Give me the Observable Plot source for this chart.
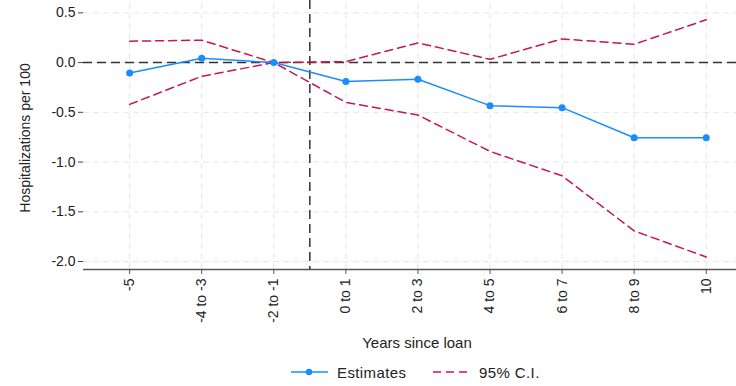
<!DOCTYPE html>
<html>
<head>
<meta charset="utf-8">
<script src="https://cdn.jsdelivr.net/npm/d3@7"></script>
<script src="https://cdn.jsdelivr.net/npm/@observablehq/plot@0.6"></script>
<style>
  body { margin: 0; background: #fff; font-family: "Liberation Sans", Arial, sans-serif; }
  #chart svg { display: block; }
  .legend { position: absolute; top: 362px; left: 0; width: 736px; height: 20px; font-size: 15px; letter-spacing: 0.4px; color: #222; }
  .legend .item { position: absolute; top: 0; display: flex; align-items: center; height: 20px; }
</style>
</head>
<body>
<div id="chart"></div>
<div class="legend">
  <div class="item" style="left:290px;">
    <svg width="40" height="20"><line x1="1" x2="38" y1="10" y2="10" stroke="#1a8cff" stroke-width="1.5"/><circle cx="19" cy="10" r="3.2" fill="#1a8cff"/></svg>
    <span style="margin-left:7px;">Estimates</span>
  </div>
  <div class="item" style="left:432px;">
    <svg width="40" height="20"><line x1="1" x2="38" y1="10" y2="10" stroke="#c8174a" stroke-width="1.5" stroke-dasharray="8,5"/></svg>
    <span style="margin-left:7px;">95% C.I.</span>
  </div>
</div>
<script>
const categories = ["-5", "-4 to -3", "-2 to -1", "0 to 1", "2 to 3", "4 to 5", "6 to 7", "8 to 9", "10"];
const estimates = [-0.104, 0.043, 0.0, -0.19, -0.168, -0.433, -0.453, -0.755, -0.755];
const ciUpper   = [0.215, 0.225, 0.0, 0.01, 0.198, 0.033, 0.238, 0.184, 0.43];
const ciLower   = [-0.42, -0.138, 0.0, -0.40, -0.527, -0.893, -1.138, -1.692, -1.954];
const yTicks = [0.5, 0, -0.5, -1, -1.5, -2];

const rows = categories.map((c, i) => ({cat: c, i, est: estimates[i], hi: ciUpper[i], lo: ciLower[i]}));

const blue = "#1a8cff";
const red = "#c8174a";

const chart = Plot.plot({
  width: 736,
  height: 356,
  marginLeft: 83,
  marginRight: 0,
  marginTop: 0,
  marginBottom: 87,
  style: {fontFamily: "Liberation Sans, Arial, sans-serif", fontSize: "13px", color: "#222", background: "#fff"},
  x: {type: "linear", domain: [-0.64, 8.42], axis: null},
  y: {domain: [-2.08, 0.624], axis: null},
  marks: [
    // gridlines
    Plot.ruleY(yTicks, {stroke: "#e6e6e6", strokeDasharray: "6,4", strokeWidth: 1}),
    Plot.ruleX(rows, {x: "i", y1: -2.08, y2: 0.624, stroke: "#e6e6e6", strokeDasharray: "6,4", strokeWidth: 1}),
    // y axis ticks & labels
    Plot.axisY(yTicks, {tickFormat: d => d3.format(".1f")(d).replace("−", "-"), tickSize: 5, tickPadding: 3, fontSize: 14, stroke: "#444", label: null}),
    Plot.text(["Hospitalizations per 100"], {frameAnchor: "left", textAnchor: "middle", dx: -58, dy: 3, rotate: -90, fontSize: 14, fill: "#222"}),
    // x axis
    Plot.ruleY([-2.08], {stroke: "#555", strokeWidth: 1.3}),
    Plot.axisX(rows.map(d => d.i), {tickFormat: i => categories[i], tickSize: 5, tickRotate: -90, tickPadding: 4, fontSize: 14, stroke: "#555", label: null}),
    Plot.text(["Years since loan"], {frameAnchor: "bottom", dx: 7, dy: 78, fontSize: 15, fill: "#222", style: "letter-spacing:0.4px"}),
    // reference lines
    Plot.ruleY([0], {stroke: "#333", strokeDasharray: "9,5", strokeWidth: 1.5}),
    Plot.ruleX([2.5], {stroke: "#333", strokeDasharray: "9,5", strokeWidth: 1.5}),
    // CI
    Plot.lineY(rows, {x: "i", y: "hi", stroke: red, strokeWidth: 1.5, strokeDasharray: "8,5"}),
    Plot.lineY(rows, {x: "i", y: "lo", stroke: red, strokeWidth: 1.5, strokeDasharray: "8,5"}),
    // estimates
    Plot.lineY(rows, {x: "i", y: "est", stroke: blue, strokeWidth: 1.5}),
    Plot.dot(rows, {x: "i", y: "est", fill: blue, r: 3.5})
  ]
});
document.getElementById("chart").appendChild(chart);
</script>
</body>
</html>
